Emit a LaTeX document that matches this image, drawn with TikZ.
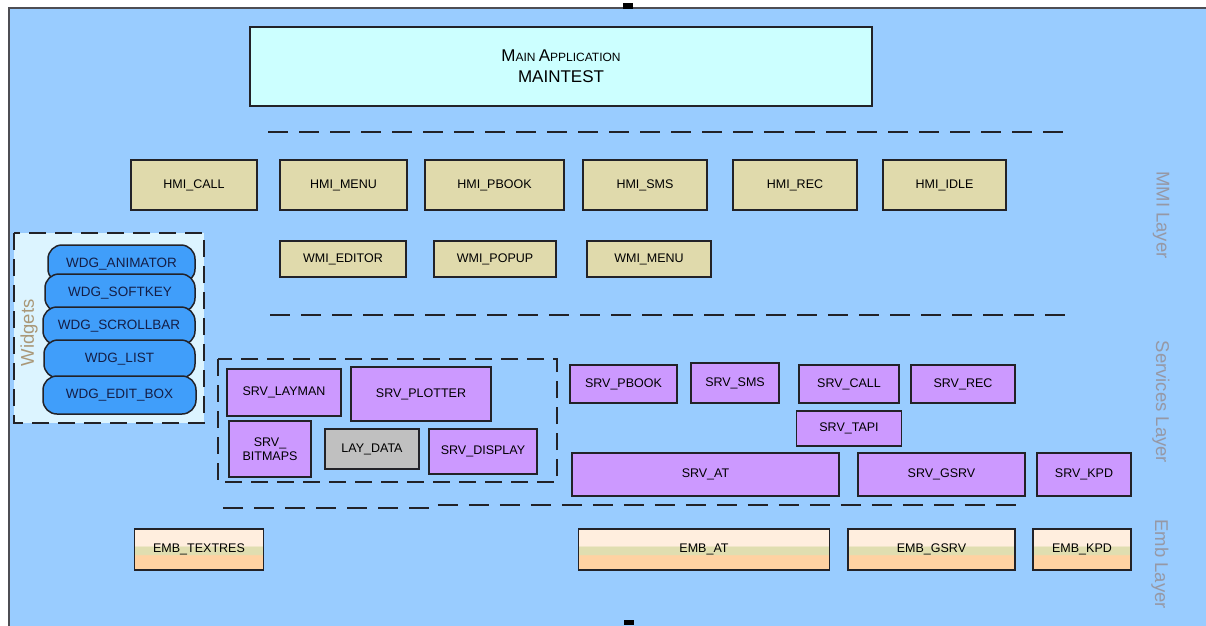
\documentclass[tikz,border=0pt]{standalone}
\usepackage{fontspec}
\setmainfont{Liberation Sans}
\usetikzlibrary{positioning}
\definecolor{bgblue}{RGB}{153,204,255}
\definecolor{boxline}{RGB}{34,34,40}
\definecolor{appcyan}{RGB}{204,255,255}
\definecolor{hmitan}{RGB}{224,218,172}
\definecolor{srvpurple}{RGB}{204,153,255}
\definecolor{laygray}{RGB}{192,192,192}
\definecolor{wdgblue}{RGB}{64,158,250}
\definecolor{wdgtext}{RGB}{20,30,70}
\definecolor{wdgpanel}{RGB}{220,244,255}
\definecolor{embtop}{RGB}{255,238,222}
\definecolor{embkhaki}{RGB}{224,222,176}
\definecolor{embpeach}{RGB}{255,210,162}
\definecolor{lblgray}{RGB}{150,152,165}
\definecolor{lbltan}{RGB}{170,152,120}
\pgfdeclareverticalshading{embshade}{100bp}{color(0bp)=(embpeach); color(43bp)=(embpeach); color(44.5bp)=(embkhaki); color(53.5bp)=(embkhaki); color(55bp)=(embtop); color(100bp)=(embtop)}
\newcommand{\capletter}[1]{{\fontsize{17}{18}\selectfont #1}}

\begin{document}
\begin{tikzpicture}[x=1pt, y=-1pt,
        base/.style={draw=boxline, line width=1.5pt, align=center, font=\fontsize{12.5}{13.5}\selectfont, inner sep=1pt},
        mainbox/.style={base, fill=appcyan, font=\fontsize{12}{21}\selectfont},
        hmi/.style={base, fill=hmitan, minimum height=50pt},
        wmi/.style={base, fill=hmitan, minimum height=36pt},
        srv/.style={base, fill=srvpurple},
        laydata/.style={base, fill=laygray},
        wdg/.style={base, fill=wdgblue, rounded corners=14pt, minimum width=150pt, minimum height=38pt, text=wdgtext, font=\fontsize{13.5}{14}\selectfont},
        emb/.style={base, shade, shading=embshade, minimum height=41pt},
        layersep/.style={line width=2pt, draw=boxline, dash pattern=on 20pt off 11pt},
        groupbox/.style={line width=1.5pt, draw=boxline, dash pattern=on 17pt off 9pt},
        layerlbl/.style={font=\fontsize{18.5}{20}\selectfont, text=lblgray},
        handle/.style={fill=black}
    ]
        \useasboundingbox (0,0) rectangle (1206,625);
        \clip (0,0) rectangle (1206,625);

        % Background
        \filldraw[fill=bgblue, draw=boxline!80, line width=1.5pt] (9,8) rectangle (1220,640);
        \fill[handle] (623,3) rectangle (633,9);
        \fill[handle] (624,620) rectangle (634,625);

        % Main application
        \node (mainapp) [mainbox, minimum width=622pt, minimum height=79pt] at (561,66.5)
            {\capletter{M}AIN \capletter{A}PPLICATION\\\capletter{MAINTEST}};
        \draw [layersep] (268,132) -- (1070,132);

        % MMI layer
        \node (hmicall) [hmi, minimum width=126pt] at (194,185) {HMI\_CALL};
        \node (hmimenu) [hmi, minimum width=127pt] at (343.5,185) {HMI\_MENU};
        \node (hmipbook) [hmi, minimum width=139pt] at (494.5,185) {HMI\_PBOOK};
        \node (hmisms) [hmi, minimum width=124pt] at (645,185) {HMI\_SMS};
        \node (hmirec) [hmi, minimum width=124pt] at (795,185) {HMI\_REC};
        \node (hmiidle) [hmi, minimum width=123pt] at (944.5,185) {HMI\_IDLE};

        \node (wmieditor) [wmi, minimum width=126pt] at (343,259) {WMI\_EDITOR};
        \node (wmipopup) [wmi, minimum width=122pt] at (495,259) {WMI\_POPUP};
        \node (wmimenu) [wmi, minimum width=124pt] at (649,259) {WMI\_MENU};
        \draw [layersep] (270,315) -- (1070,315);

        % Widgets
        \filldraw [groupbox, fill=wdgpanel] (14,233) rectangle (204,423);
        \node (wdglbl) [font=\fontsize{18.5}{20}\selectfont, text=lbltan, rotate=90] at (29,333) {Widgets};
        \node (wdganim) [wdg, minimum width=147pt] at (121.5,264) {WDG\_ANIMATOR};
        \node (wdgsoft) [wdg] at (120,293) {WDG\_SOFTKEY};
        \node (wdgscroll) [wdg, minimum width=152pt] at (119,326) {WDG\_SCROLLBAR};
        \node (wdglist) [wdg, minimum width=151pt] at (119.5,359) {WDG\_LIST};
        \node (wdgedit) [wdg, minimum width=153pt] at (119.5,395) {WDG\_EDIT\_BOX};

        % Services layer
        \draw [groupbox] (218,359) rectangle (557,482);
        \node (srvlayman) [srv, minimum width=114pt, minimum height=47pt] at (284,392.5) {SRV\_LAYMAN};
        \node (srvplotter) [srv, minimum width=140pt, minimum height=54pt] at (421,394) {SRV\_PLOTTER};
        \node (srvbitmaps) [srv, minimum width=82pt, minimum height=56pt] at (270,449) {SRV\_\\BITMAPS};
        \node (laydatabox) [laydata, minimum width=94pt, minimum height=40pt] at (372,449) {LAY\_DATA};
        \node (srvdisplay) [srv, minimum width=108pt, minimum height=45pt] at (483,451.5) {SRV\_DISPLAY};

        \node (srvpbook) [srv, minimum width=107pt, minimum height=38pt] at (623.5,384) {SRV\_PBOOK};
        \node (srvsms) [srv, minimum width=88pt, minimum height=40pt] at (735,383) {SRV\_SMS};
        \node (srvcall) [srv, minimum width=100pt, minimum height=38pt] at (849,384) {SRV\_CALL};
        \node (srvrec) [srv, minimum width=104pt, minimum height=38pt] at (963,384) {SRV\_REC};
        \node (srvtapi) [srv, minimum width=105pt, minimum height=35pt] at (849,428.5) {SRV\_TAPI};
        \node (srvat) [srv, minimum width=267pt, minimum height=43pt] at (705.5,474.5) {SRV\_AT};
        \node (srvgsrv) [srv, minimum width=167pt, minimum height=43pt] at (941.5,474.5) {SRV\_GSRV};
        \node (srvkpd) [srv, minimum width=94pt, minimum height=43pt] at (1084,474.5) {SRV\_KPD};
        \draw [layersep] (223,508) -- (430,508) -- (431,505) -- (1025,505);

        % Emb layer
        \node (embtextres) [emb, minimum width=129pt] at (199,549.5) {EMB\_TEXTRES};
        \node (embat) [emb, minimum width=251pt] at (704,549.5) {EMB\_AT};
        \node (embgsrv) [emb, minimum width=167pt] at (931.5,549.5) {EMB\_GSRV};
        \node (embkpd) [emb, minimum width=98pt] at (1082,549.5) {EMB\_KPD};

        % Layer names
        \node (mmilbl) [layerlbl, rotate=-90] at (1161,215) {MMI Layer};
        \node (srvlbl) [layerlbl, rotate=-90] at (1161,402) {Services Layer};
        \node (emblbl) [layerlbl, rotate=-90] at (1160,564) {Emb Layer};
    \end{tikzpicture}
\end{document}
